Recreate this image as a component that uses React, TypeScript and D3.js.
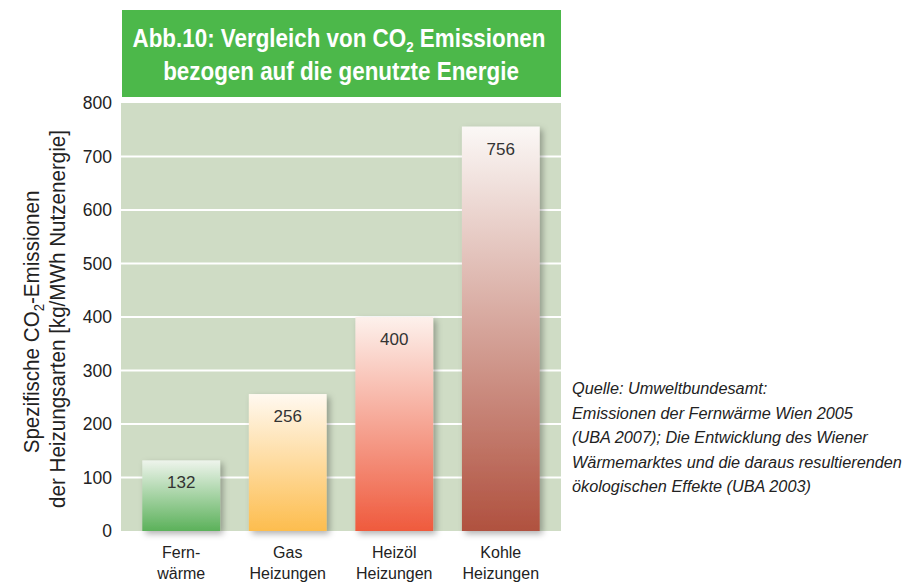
import React, { useLayoutEffect, useRef, useState } from "react";
import * as d3 from "d3";

const categories = ["Fernwärme", "Gas Heizungen", "Heizöl Heizungen", "Kohle Heizungen"];
const categoryLines = [["Fern-", "wärme"], ["Gas", "Heizungen"], ["Heizöl", "Heizungen"], ["Kohle", "Heizungen"]];
const values = [132, 256, 400, 756];
const topColors = ["#eef4ec", "#fff9f0", "#fdf1ec", "#fbf8f6"];
const bottomColors = ["#5bb15a", "#fdbd4e", "#ef5a3d", "#b0513f"];
const yTicks = [0, 100, 200, 300, 400, 500, 600, 700, 800];
const sourceLines = [
  "Quelle: Umweltbundesamt:",
  "Emissionen der Fernwärme Wien 2005",
  "(UBA 2007); Die Entwicklung des Wiener",
  "Wärmemarktes und die daraus resultierenden",
  "ökologischen Effekte (UBA 2003)",
];

const W = 907;
const H = 583;
const FONT = "'Liberation Sans', Arial, sans-serif";

export default function App() {
  const left = 121, right = 561, top = 103, bottom = 531;
  const y = d3.scaleLinear().domain([0, 800]).range([bottom, top]);
  const x = d3.scaleBand<string>().domain(categories).range([left, right]).paddingInner(0.27).paddingOuter(0.2);

  const titleRef = useRef<SVGTextElement>(null);
  const axisRef = useRef<SVGTextElement>(null);
  const srcRef = useRef<SVGTextElement>(null);
  const [sc, setSc] = useState({ title: 0.85, axis: 0.85, src: 0.85 });

  useLayoutEffect(() => {
    const t = titleRef.current?.getComputedTextLength() || 1;
    const a = axisRef.current?.getComputedTextLength() || 1;
    const s = srcRef.current?.getComputedTextLength() || 1;
    setSc({ title: 413 / t, axis: 378 / a, src: 330 / s });
  }, []);

  return (
    <svg width={W} height={H} style={{ position: "absolute", left: 0, top: 0, background: "#fff" }}>
      <defs>
        <filter id="shadow" x="-20%" y="-20%" width="150%" height="150%">
          <feDropShadow dx="3" dy="3" stdDeviation="3" floodColor="#000" floodOpacity="0.3" />
        </filter>
        {categories.map((c, i) => (
          <linearGradient key={c} id={`g${i}`} x1="0" y1="0" x2="0" y2="1">
            <stop offset="0%" stopColor={topColors[i]} />
            <stop offset="100%" stopColor={bottomColors[i]} />
          </linearGradient>
        ))}
      </defs>
      {/* title box */}
      <rect x={122} y={10} width={439} height={87} fill="#4cb84a" />
      <g transform={`translate(339,47) scale(${sc.title},1)`}>
        <text ref={titleRef} x={0} y={0} textAnchor="middle" fill="#fff" fontFamily={FONT} fontWeight="bold" fontSize={25}>
          Abb.10: Vergleich von CO<tspan fontSize={15} dy={5}>2</tspan><tspan dy={-5}> Emissionen</tspan>
        </text>
      </g>
      <g transform={`translate(341,80) scale(${sc.title},1)`}>
        <text x={0} y={0} textAnchor="middle" fill="#fff" fontFamily={FONT} fontWeight="bold" fontSize={25}>
          bezogen auf die genutzte Energie
        </text>
      </g>
      {/* plot background */}
      <rect x={left} y={top} width={right - left} height={bottom - top} fill="#cfdcc5" />
      {yTicks.filter((t) => t > 0 && t < 800).map((t) => (
        <line key={t} x1={left} x2={right} y1={y(t)} y2={y(t)} stroke="#fff" strokeWidth={2} />
      ))}
      {yTicks.map((t) => (
        <text key={t} x={112} y={y(t)} dy="0.36em" textAnchor="end" fill="#222" fontFamily={FONT} fontSize={17.5}>
          {t}
        </text>
      ))}
      {/* bars */}
      {categories.map((c, i) => (
        <g key={c}>
          <rect
            x={x(c)}
            y={y(values[i])}
            width={x.bandwidth()}
            height={bottom - y(values[i])}
            fill={`url(#g${i})`}
            filter="url(#shadow)"
          />
          <text x={(x(c) as number) + x.bandwidth() / 2} y={y(values[i]) + 28} textAnchor="middle" fill="#333" fontFamily={FONT} fontSize={17}>
            {values[i]}
          </text>
          {categoryLines[i].map((l, j) => (
            <text key={j} x={(x(c) as number) + x.bandwidth() / 2} y={558 + j * 21} textAnchor="middle" fill="#222" fontFamily={FONT} fontSize={16}>
              {l}
            </text>
          ))}
        </g>
      ))}
      {/* y axis title */}
      <g transform={`rotate(-90) translate(-322,39) scale(${sc.axis},1)`}>
        <text x={0} y={0} textAnchor="middle" fill="#222" fontFamily={FONT} fontSize={22}>
          Spezifische CO<tspan fontSize={14} dy={5}>2</tspan><tspan dy={-5}>-Emissionen</tspan>
        </text>
      </g>
      <g transform={`rotate(-90) translate(-319,65) scale(${sc.axis},1)`}>
        <text ref={axisRef} x={0} y={0} textAnchor="middle" fill="#222" fontFamily={FONT} fontSize={22}>
          der Heizungsarten [kg/MWh Nutzenergie]
        </text>
      </g>
      {/* source */}
      {sourceLines.map((l, i) => (
        <g key={i} transform={`translate(572,${394 + i * 24.5}) scale(${sc.src},1)`}>
          <text ref={i === 3 ? srcRef : undefined} x={0} y={0} fill="#222" fontFamily={FONT} fontStyle="italic" fontSize={17}>
            {l}
          </text>
        </g>
      ))}
    </svg>
  );
}
